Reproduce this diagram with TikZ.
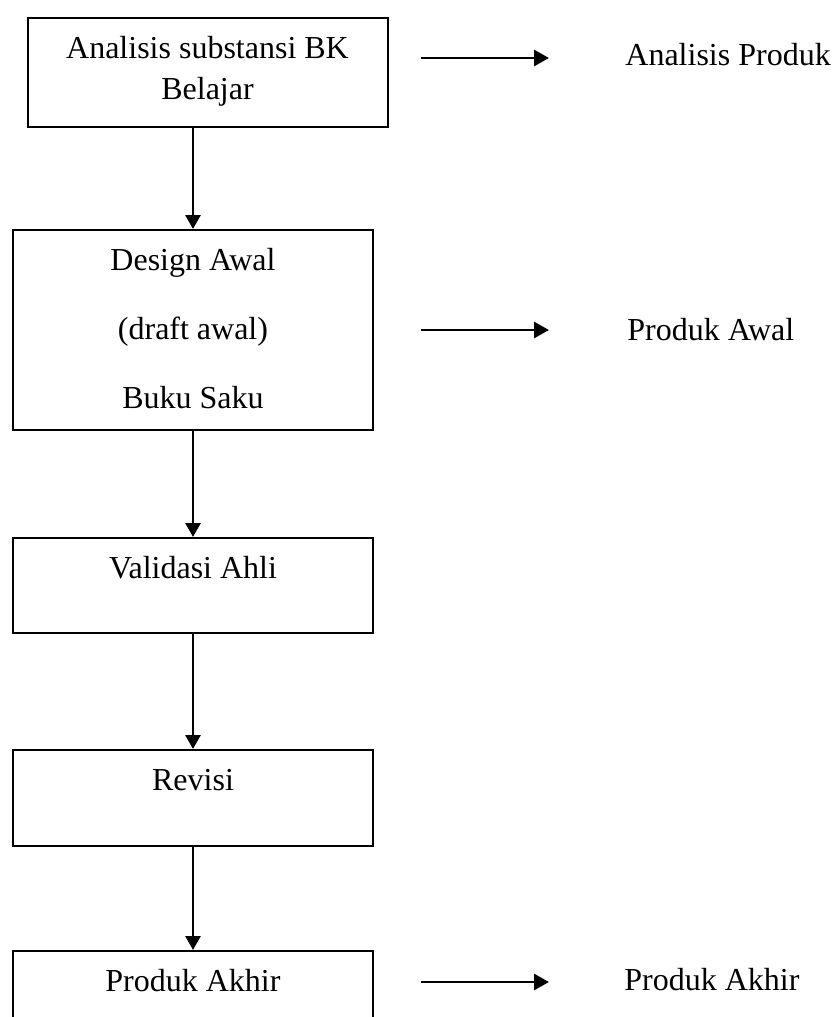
\documentclass[tikz,border=0pt]{standalone}
\usepackage{fontspec}
\setmainfont{Liberation Serif}
\usetikzlibrary{arrows.meta}
\begin{document}
\begin{tikzpicture}[x=0.5pt,y=-0.5pt]
  \useasboundingbox (0,0) rectangle (834,1017);
  \begin{scope}[every node/.style={draw,line width=1pt,anchor=north,minimum width=180pt,
      inner ysep=0pt,align=center,text height=20pt,font=\fontsize{16}{20.5}\selectfont}]
    \node[text height=40.5pt,text depth=14pt] (b1) at (207.5,17) {Analisis substansi BK\\Belajar};
    \node[text height=89pt,text depth=11pt] (b2) at (193,229) {Design Awal\\[14pt](draft awal)\\[14pt]Buku Saku};
    \node[text depth=27.5pt] (b3) at (193,537) {Validasi Ahli};
    \node[text depth=28pt] (b4) at (193,749) {Revisi};
    \node[text depth=30pt] (b5) at (193,950) {Produk Akhir};
  \end{scope}
  \begin{scope}[every node/.style={anchor=base west,inner sep=0pt,font=\fontsize{16}{20.5}\selectfont}]
    \node (r1) at (625,65) {Analisis Produk};
    \node (r2) at (627,340) {Produk Awal};
    \node (r3) at (624,990) {Produk Akhir};
  \end{scope}
  \coordinate (s1) at (421,58);
  \coordinate (e1) at (549,58);
  \coordinate (s2) at (421,330);
  \coordinate (e2) at (549,330);
  \coordinate (s3) at (421,982);
  \coordinate (e3) at (549,982);
  \begin{scope}[every edge/.style={draw=black,line width=1.4pt,-{Triangle[length=7pt,width=7.5pt]}}]
    \path (b1.south -| b2.north) edge (b2.north)
          (b2) edge (b3)
          (b3) edge (b4)
          (b4) edge (b5);
  \end{scope}
  \begin{scope}[every edge/.style={draw=black,line width=1.4pt,-{Triangle[length=7.5pt,width=8pt]}}]
    \path (s1) edge (e1)
          (s2) edge (e2)
          (s3) edge (e3);
  \end{scope}
\end{tikzpicture}
\end{document}
